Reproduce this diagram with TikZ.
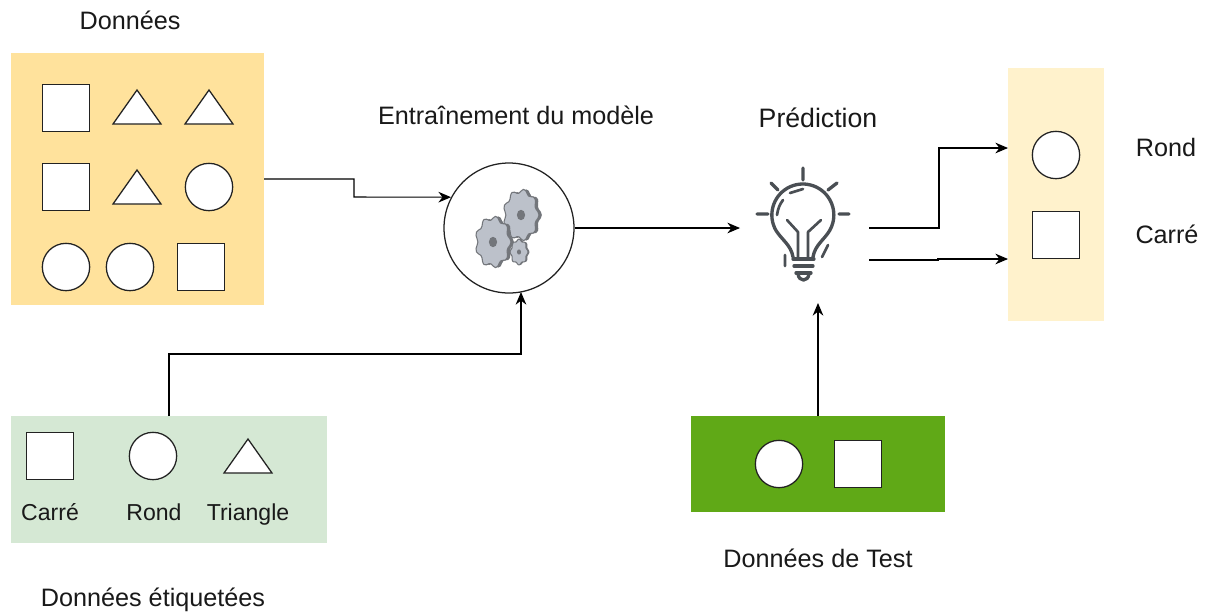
\documentclass[tikz,border=0pt]{standalone}
\usepackage{fontspec}
\setmainfont{Liberation Sans}
\usetikzlibrary{arrows.meta}
\definecolor{gearfill}{HTML}{BCC1CA}
\definecolor{geardark}{HTML}{73767B}
\definecolor{bulbc}{HTML}{4A4F54}
\definecolor{linec}{HTML}{222222}
\definecolor{panelA}{RGB}{255,226,156}
\definecolor{panelB}{RGB}{213,232,212}
\definecolor{panelC}{RGB}{96,169,23}
\definecolor{panelD}{RGB}{255,242,204}
\tikzset{
  x=0.75pt,y=-0.75pt,
  sq/.style={draw=linec,fill=white,line width=0.95pt,minimum size=35.5pt,inner sep=0pt},
  circ/.style={draw=linec,fill=white,line width=0.95pt,circle,minimum size=35.5pt,inner sep=0pt},
  tri/.style={draw=linec,fill=white,line width=0.95pt,line join=miter},
  lab/.style={font=\fontsize{18.9}{22}\selectfont,text=black!90,inner sep=0pt,text height=0.75em,text depth=0.22em,yshift=-3.75pt},
  labsm/.style={lab,font=\fontsize{17.3}{20}\selectfont},
  conn/.style={draw=black,line width=0.8pt,-{Stealth[length=9.5pt,width=8pt]}},
  bulbl/.style={draw=bulbc,line width=2.5pt,line cap=round,line join=round},
  bulbt/.style={bulbl,line width=2pt},
}
\newcommand{\tripic}[2]{\draw[tri] (#1-24,#2+17) -- (#1,#2-17) -- (#1+24,#2+17) -- cycle;}
\newcommand{\gearpic}[5]{% x y rx ry teeth
  \begin{scope}[shift={(#1,#2)}]
  \fill[geardark,line join=round]
      plot[smooth cycle,samples=48,domain=0:352.5,variable=\t]
      ({#3*0.16+#3*(0.92+0.08*cos(#5*\t))*cos(\t)},{#4*(0.92+0.08*cos(#5*\t))*sin(\t)});
  \fill[gearfill,draw=geardark,line width=0.8pt,line join=round]
      plot[smooth cycle,samples=48,domain=0:352.5,variable=\t]
      ({#3*(0.92+0.08*cos(#5*\t))*cos(\t)},{#4*(0.92+0.08*cos(#5*\t))*sin(\t)});
  \fill[geardark] (0,0) ellipse[x radius=#3*0.23,y radius=#4*0.2];
  \end{scope}}
\begin{document}
\begin{tikzpicture}
\useasboundingbox (0,0) rectangle (1206,612);
\fill[white] (0,0) rectangle (1206,612);
% panels
\fill[panelA] (11,53) rectangle (264,305);
\fill[panelB] (11,416) rectangle (327,543);
\fill[panelC] (691,416) rectangle (945,512);
\fill[panelD] (1008,68) rectangle (1104,321);
\coordinate (data) at (264,179);
\coordinate (labeled) at (169,416);
\coordinate (test) at (818,416);
\coordinate (predtip) at (818,303);
\coordinate (bulbtop) at (869,228);
\coordinate (bulbbot) at (869,260);
\coordinate (outtop) at (1008,148);
\coordinate (outbot) at (1008,259);
% shapes in Données
\node[sq] (a1) at (66,108) {};
\tripic{137}{107}
\tripic{209}{107}
\node[sq] (a4) at (66,187) {};
\tripic{137}{187}
\node[circ] (a6) at (209,187) {};
\node[circ] (a7) at (66,267) {};
\node[circ] (a8) at (130,267) {};
\node[sq] (a9) at (201,267) {};
% labeled
\node[sq] (b1) at (50,456) {};
\node[circ] (b2) at (153,456) {};
\tripic{248}{456}
\node[labsm] (t1) at (50,512) {Carré};
\node[labsm] (t2) at (154,512) {Rond};
\node[labsm] (t3) at (248,512) {Triangle};
% test
\node[circ] (c1) at (779,464) {};
\node[sq] (c2) at (858,464) {};
% output
\node[circ] (d1) at (1056,155) {};
\node[sq] (d2) at (1056,235) {};
% model
\node[draw=linec,fill=white,circle,line width=0.95pt,minimum size=97.5pt,inner sep=0pt] (model) at (509,228) {};
\gearpic{519}{252}{9}{13}{8}
\gearpic{521}{215}{18}{26}{9}
\gearpic{493}{242}{18}{26}{9}
% bulb
\draw[bulbl] (793,257) .. controls (791,245) and (782,240) .. (776,230.5)
  arc[start angle=150,end angle=390,radius=31]
  .. controls (824,240) and (815,245) .. (813,257);
\draw[bulbt] (787,220) -- (798,232) -- (798,257) (821,220) -- (808,232) -- (808,257);
\draw[bulbt] (777,215) .. controls (778,208) and (780,204) .. (783,200);
\draw[bulbt] (790,193) -- (803,189);
\draw[bulbl] (793,259) -- (814,259) (794,266) -- (813,266) (796,273) -- (811,273);
\draw[bulbl] (798,274) .. controls (799,282) and (808,282) .. (809,274);
\draw[bulbl] (803,168) -- (803,180) (771,183) -- (778,190) (837,183) -- (828,190)
  (757,214) -- (768,214) (839,214) -- (849,214);
\draw[bulbt] (785,255) -- (785,266) (822,257) -- (828,245);
% texts
\node[lab] (l1) at (130,21) {Données};
\node[lab] (l2) at (516,116) {Entraînement du modèle};
\node[lab,font=\fontsize{20}{24}\selectfont] (l3) at (818,119) {Prédiction};
\node[lab] (l4) at (1166,148) {Rond};
\node[lab] (l5) at (1167,235) {Carré};
\node[lab] (l6) at (818,559) {Données de Test};
\node[lab] (l7) at (153,598) {Données étiquetées};
% connectors
\draw[conn] (data) -- (354,179) -- (354,197) -- (model.152);
\draw[conn] (labeled) -- (169,354) -- (521,354) -- (521,292);
\draw[conn] (model.east) -- (740,228);
\draw[conn] (test) -- (predtip);
\draw[conn] (bulbtop) -- (939,228) -- (939,148) -- (outtop);
\draw[conn] (bulbbot) -- (938,260) -- (938,259) -- (outbot);
\end{tikzpicture}
\end{document}
